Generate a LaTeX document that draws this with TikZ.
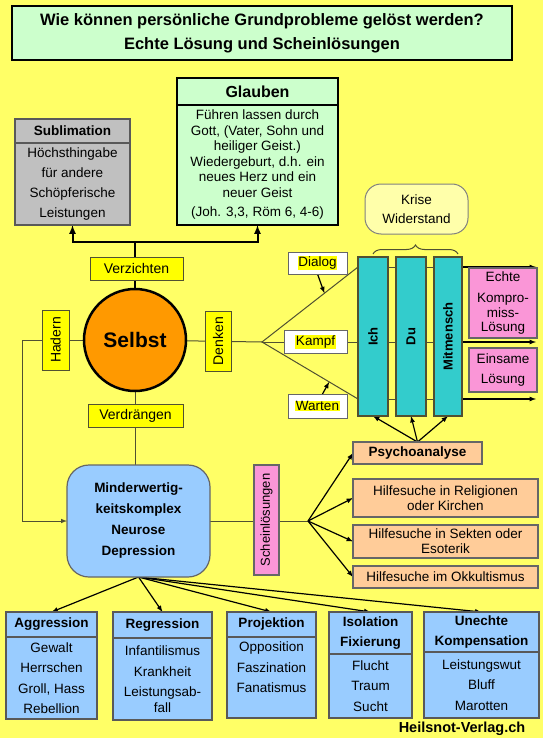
\documentclass[tikz,border=0pt]{standalone}
\usepackage{fontspec}
\usepackage{graphicx}
\setmainfont{Liberation Sans}
\usetikzlibrary{positioning,calc,decorations.pathreplacing}
\definecolor{bgyellow}{RGB}{255,255,102}
\definecolor{mint}{RGB}{204,255,204}
\definecolor{boxgrey}{RGB}{192,192,192}
\definecolor{hiyellow}{RGB}{255,255,0}
\definecolor{selbstorange}{RGB}{255,153,0}
\definecolor{colteal}{RGB}{51,204,204}
\definecolor{pinkfill}{RGB}{250,150,215}
\definecolor{peach}{RGB}{255,204,153}
\definecolor{lightblue}{RGB}{153,204,255}
\definecolor{paleyellow}{RGB}{255,255,170}
\definecolor{edge}{RGB}{80,80,50}
\pgfdeclarelayer{back}
\pgfdeclarelayer{lines}
\pgfsetlayers{back,lines,main}
\newcommand{\marked}[1]{{\setlength{\fboxsep}{0.6pt}\colorbox{hiyellow}{#1}}}
\newcommand{\vtext}[1]{\rotatebox{90}{#1}}

\begin{document}
\begin{tikzpicture}[x=1pt,y=-1pt,
	every node/.style={outer sep=0pt,inner sep=1pt,align=center,font=\fontsize{13.5}{15}\selectfont},
	titlebox/.style={draw,fill=mint,line width=2pt,font=\bfseries\fontsize{16.5}{24}\selectfont},
	gbox/.style={draw,fill=mint,line width=2.5pt},
	greybox/.style={draw=black!65,fill=boxgrey,line width=1.2pt},
	yelbox/.style={draw=edge,fill=hiyellow,line width=1pt,font=\fontsize{14}{16}\selectfont},
	whitebox/.style={draw=black!60,fill=white,line width=1pt},
	colbox/.style={draw=edge,fill=colteal,line width=1.2pt,minimum width=30,minimum height=159,font=\bfseries\fontsize{13}{16}\selectfont},
	pinkbox/.style={draw=black!60,fill=pinkfill,line width=1.2pt},
	peachbox/.style={draw=black!60,fill=peach,line width=1.2pt},
	bluehead/.style={draw=black!65,fill=lightblue,line width=1.2pt,font=\bfseries\fontsize{13.5}{20.5}\selectfont},
	bluebox/.style={draw=black!65,fill=lightblue,line width=1.2pt,font=\fontsize{13.5}{20.5}\selectfont},
	thinline/.style={draw=edge,line width=1pt},
	arrowline/.style={-latex,line width=1.2pt}]
	\useasboundingbox (0,0) rectangle (543,738);
	\begin{pgfonlayer}{back}
		\fill[bgyellow] (0,0) rectangle (543,738);
	\end{pgfonlayer}

	\node[titlebox,minimum width=500,minimum height=54] (title) at (262,33) {Wie können persönliche Grundprobleme gelöst werden?\\Echte Lösung und Scheinlösungen};

	\node[gbox,anchor=north west,minimum width=161,minimum height=27,font=\bfseries\fontsize{16}{18}\selectfont] (glaubenh) at (177,78) {Glauben};
	\node[gbox,below=0pt of glaubenh,minimum width=161,minimum height=120,font=\fontsize{13.5}{15.5}\selectfont] (glauben) {Führen lassen durch\\Gott, (Vater, Sohn und\\heiliger Geist.)\\Wiedergeburt, d.h. ein\\neues Herz und ein\\neuer Geist\\[4pt](Joh. 3,3, Röm 6, 4-6)};

	\node[greybox,anchor=north west,minimum width=115,minimum height=24,font=\bfseries\fontsize{13.5}{16}\selectfont] (sublh) at (15,119) {Sublimation};
	\node[greybox,below=0pt of sublh,minimum width=115,minimum height=82,font=\fontsize{13.5}{20}\selectfont] (subl) {Höchsthingabe\\für andere\\Schöpferische\\Leistungen};

	\node[yelbox,minimum width=93,minimum height=23] (verz) at (136.5,268.5) {Verzichten};
	\node[circle,draw,line width=2.5pt,fill=selbstorange,minimum size=102,font=\bfseries\fontsize{21}{24}\selectfont] (selbst) at (135,340) {Selbst};
	\node[yelbox,minimum width=27,minimum height=60] (hadern) at (55.5,340) {\vtext{Hadern}};
	\node[yelbox,minimum width=26,minimum height=60] (denken) at (218,341) {\vtext{Denken}};
	\node[yelbox,minimum width=95,minimum height=23] (verdr) at (135.5,415.5) {Verdrängen};

	\node[whitebox,minimum width=59,minimum height=22] (dialog) at (317.5,263) {\marked{Dialog}};
	\node[whitebox,minimum width=63,minimum height=23] (kampf) at (315.5,342) {\marked{Kampf}};
	\node[whitebox,minimum width=59,minimum height=24] (warten) at (317.5,406) {\marked{Warten}};

	\node[draw=black!50,fill=paleyellow,rounded corners=16,line width=1pt,minimum width=103,minimum height=50] (krise) at (416.5,209) {Krise\\[4pt]Widerstand};
	\node[colbox] (ich) at (373,336.5) {\vtext{Ich}};
	\node[colbox] (du) at (411,336.5) {\vtext{Du}};
	\node[colbox,minimum width=28] (mit) at (448,336.5) {\vtext{Mitmensch}};

	\node[pinkbox,minimum width=68,minimum height=70,font=\fontsize{13.5}{14.5}\selectfont] (echte) at (503,303) {Echte\\[7pt]Kompro-\\miss-\\Lösung};
	\node[pinkbox,minimum width=68,minimum height=44,font=\fontsize{13.5}{20}\selectfont] (einsam) at (503,370) {Einsame\\Lösung};

	\node[peachbox,minimum width=129,minimum height=22,font=\bfseries\fontsize{13.5}{16}\selectfont] (psycho) at (417.5,453) {Psychoanalyse};
	\node[peachbox,minimum width=185,minimum height=38] (relig) at (445.5,498) {Hilfesuche in Religionen\\oder Kirchen};
	\node[peachbox,minimum width=185,minimum height=33] (sekten) at (445.5,541.5) {Hilfesuche in Sekten oder\\Esoterik};
	\node[peachbox,minimum width=185,minimum height=22] (okkult) at (445.5,577) {Hilfesuche im Okkultismus};

	\node[pinkbox,minimum width=25,minimum height=110,font=\fontsize{13}{15}\selectfont] (schein) at (266.5,520) {\vtext{Scheinlösungen}};
	\node[draw=black!60,fill=lightblue,rounded corners=22,line width=1.2pt,minimum width=143,minimum height=112,font=\bfseries\fontsize{13.5}{21}\selectfont] (minder) at (138.5,521) {Minderwertig-\\keitskomplex\\Neurose\\Depression};

	\node[bluehead,anchor=north west,minimum width=91,minimum height=25] (aggh) at (6,612) {Aggression};
	\node[bluebox,below=0pt of aggh,minimum width=91,minimum height=82] (agg) {Gewalt\\Herrschen\\Groll, Hass\\Rebellion};
	\node[bluehead,anchor=north west,minimum width=99,minimum height=26] (regh) at (113,612) {Regression};
	\node[bluebox,below=0pt of regh,minimum width=99,minimum height=82] (reg) {Infantilismus\\Krankheit\\Leistungsab-\\[-5pt]fall};
	\node[bluehead,anchor=north west,minimum width=89,minimum height=25] (projh) at (227,612) {Projektion};
	\node[bluebox,below=0pt of projh,minimum width=89,minimum height=81] (proj) {Opposition\\Faszination\\Fanatismus\\~};
	\node[bluehead,anchor=north west,minimum width=83,minimum height=42] (isoh) at (329,612) {Isolation\\Fixierung};
	\node[bluebox,below=0pt of isoh,minimum width=83,minimum height=64] (iso) {Flucht\\Traum\\Sucht};
	\node[bluehead,anchor=north west,minimum width=115,minimum height=40] (unh) at (424,612) {Unechte\\Kompensation};
	\node[bluebox,below=0pt of unh,minimum width=115,minimum height=66] (un) {Leistungswut\\Bluff\\Marotten};

	\node[font=\bfseries\fontsize{14.5}{16}\selectfont] (verlag) at (462,729) {Heilsnot-Verlag.ch};

	\coordinate (fork) at (135,242);
	\coordinate (apex) at (262,342);
	\coordinate (upT) at (358,267);
	\coordinate (loT) at (358,399);
	\coordinate (fan) at (308,521);
	\begin{pgfonlayer}{lines}
		\draw[line width=2pt] (selbst.north) -- (fork);
		\draw[line width=2pt,-latex] (fork) -| (subl.south);
		\draw[line width=2pt,-latex] (fork) -| (glauben.south);
		\draw[thinline] (selbst) -- (apex);
		\draw[thinline,-latex] (selbst) -- (22,340) |- (minder);
		\draw[thinline] (selbst) -- (selbst |- minder.north);
		\draw[thinline] (upT) -- (apex) -- (loT);
		\draw[thinline] (upT) -- (mit.east |- upT);
		\draw[thinline] (apex) -- (mit.east |- apex);
		\draw[thinline] (loT) -- (mit.east |- loT);
		\draw[arrowline] (mit.east |- upT) -- (536,267);
		\draw[arrowline] (mit.east |- apex) -- (536,342);
		\draw[arrowline] (mit.east |- loT) -- (536,399);
		\draw[arrowline] (dialog.south) -- ($(apex)!0.65!(upT)$);
		\draw[arrowline] ([xshift=5]warten.north) -- ($(apex)!0.7!(loT)$);
		\foreach \c in {ich,du,mit}
			\draw[arrowline] (psycho.north) -- (\c.south);
		\draw[thinline] (minder) -- (fan);
		\foreach \b in {psycho,relig,sekten,okkult}
			\draw[arrowline] (fan) -- (\b.west);
		\foreach \b in {aggh,regh,projh,isoh,unh}
			\draw[arrowline] (minder.south) -- (\b.north);
	\end{pgfonlayer}
	\draw[edge,line width=1pt,decorate,decoration={brace,amplitude=9pt}] (373,254) -- (458,254);
\end{tikzpicture}
\end{document}
